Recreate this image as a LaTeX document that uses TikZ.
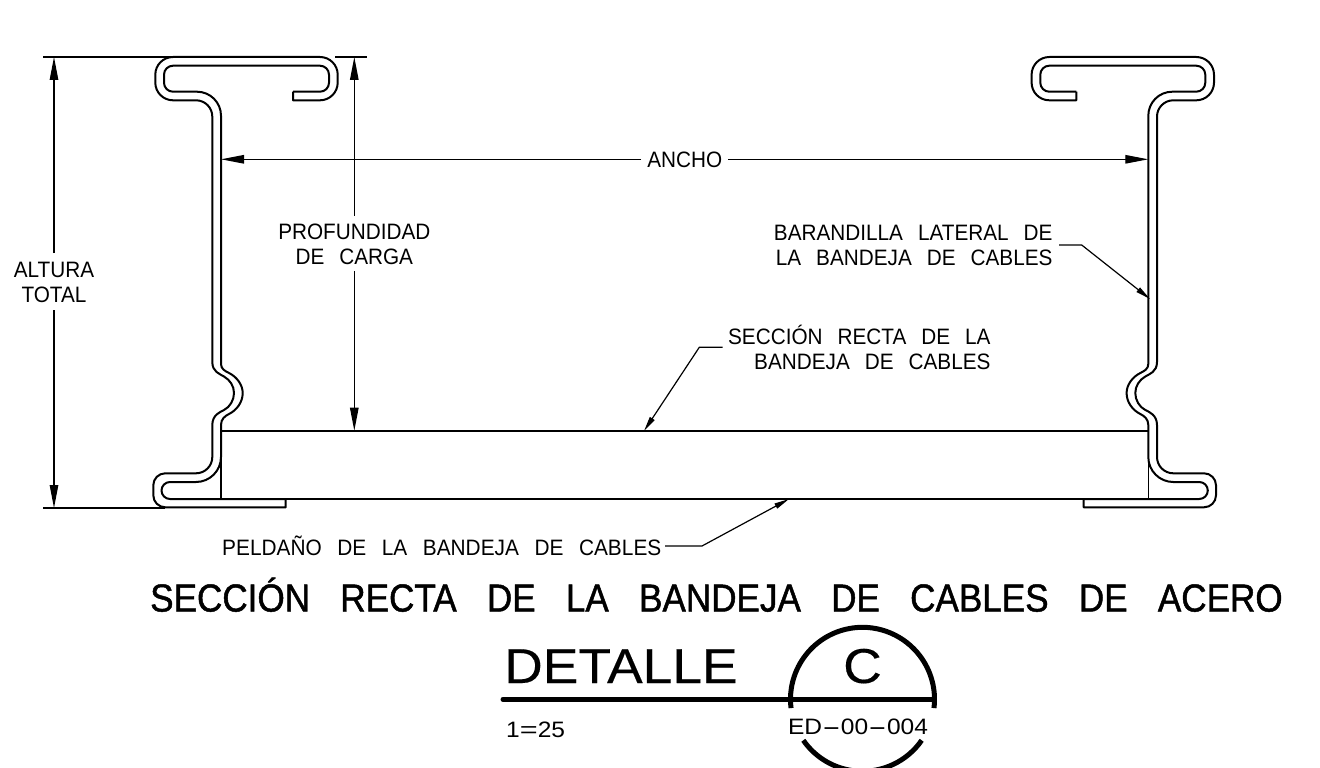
\documentclass[tikz,border=0pt]{standalone}
\usepackage{fontspec}
\usepackage{graphicx}
\usetikzlibrary{arrows.meta}
\newfontfamily\cadsmall[FakeStretch=0.93,WordSpace=2.6]{Liberation Sans}
\newfontfamily\cadlong[FakeStretch=0.935,WordSpace=2.68]{Liberation Sans}
\newfontfamily\cadwide[FakeStretch=1.1]{Liberation Sans}
\newfontfamily\cadtitle[FakeStretch=0.9,FakeBold=1.2,WordSpace=3.1]{Liberation Sans}
\newfontfamily\cadbig[FakeStretch=1.09,FakeBold=0.3]{Liberation Sans}
\tikzset{
  x=1pt,y=-1pt,
  railline/.style={line width=2pt,line join=round,black},
  thinline/.style={line width=1.6pt,black},
  dimline/.style={line width=1.2pt,black},
  dimhead/.style={-{Triangle[length=23pt,width=8.5pt]}},
  leadline/.style={line width=1.2pt,black,-{Triangle[length=15pt,width=5.5pt]}},
  smalltext/.style={inner sep=0pt,font=\cadsmall\fontsize{22.3}{25}\selectfont},
  longtext/.style={inner sep=0pt,font=\cadlong\fontsize{22.3}{25}\selectfont},
  widetext/.style={inner sep=0pt,font=\cadwide\fontsize{22.3}{25}\selectfont},
  bigtext/.style={inner sep=0pt,font=\cadbig\fontsize{49}{55}\selectfont},
  titletext/.style={inner sep=0pt,font=\cadtitle\fontsize{39}{44}\selectfont},
  heavyline/.style={line width=5pt,line cap=round,black},
}
\newcommand{\railshape}{%
  % outer skin
  \draw[railline] (293,91.7) -- (293,100.3) -- (320,100.3)
    arc[start angle=90,end angle=0,radius=17.7] -- (337.7,74.7)
    arc[start angle=0,end angle=-90,radius=17.7] -- (173,57)
    arc[start angle=-90,end angle=-180,radius=17.7] -- (155.3,82.6)
    arc[start angle=180,end angle=90,radius=17.7] -- (196,100.3)
    arc[start angle=-90,end angle=0,radius=16.3] -- (212.3,362)
    .. controls (212.3,372) and (220,374) .. (224,376.5)
    .. controls (230,380) and (234,386) .. (234,393)
    .. controls (234,400) and (230,407) .. (224,410)
    .. controls (220,412) and (212.3,415) .. (212.3,425)
    -- (212.3,457)
    arc[start angle=0,end angle=90,radius=16.3] -- (165.3,473.3)
    arc[start angle=-90,end angle=-180,radius=12] -- (153.3,495.3)
    arc[start angle=180,end angle=90,radius=12] -- (285.7,507.3) -- (285.7,499);
  % inner skin
  \draw[railline] (293,91.7) -- (320,91.7)
    arc[start angle=90,end angle=0,radius=9] -- (329,74.7)
    arc[start angle=0,end angle=-90,radius=9] -- (173,65.7)
    arc[start angle=-90,end angle=-180,radius=9] -- (164,82.7)
    arc[start angle=180,end angle=90,radius=9] -- (197,91.7)
    arc[start angle=-90,end angle=0,radius=24] -- (221,364)
    .. controls (221,369) and (225,371) .. (229,373)
    .. controls (237,377) and (242.7,385) .. (242.7,393)
    .. controls (242.7,402) and (237,410) .. (229,414)
    .. controls (225,416) and (221,419) .. (221,425)
    -- (221,457)
    arc[start angle=0,end angle=90,radius=25] -- (170,482)
    arc[start angle=-90,end angle=-270,radius=8.5] -- (285.7,499);
}
\begin{document}
\begin{tikzpicture}
\useasboundingbox (0,0) rectangle (1320,768);
\fill[white] (0,0) rectangle (1320,768);

\railshape
\begin{scope}[xshift=1369.3pt,xscale=-1]
\railshape
\end{scope}

% straight section
\draw[thinline] (221,499) -- (221,430.7) -- (1148.3,430.7) -- (1148.3,499);
\draw[thinline] (221,499) -- (1148.3,499);

% extension lines
\draw[dimline] (43,57) -- (173,57);
\draw[dimline] (43,508) -- (165,508);
\draw[dimline] (335,57) -- (366.7,57);

% labels
\node[smalltext,align=center,anchor=south] (altura) at (54,303) {ALTURA\\TOTAL};
\node[smalltext,align=center,anchor=south] (profundidad) at (354.3,264.8) {PROFUNDIDAD\\DE CARGA};
\node[smalltext,anchor=center] (ancho) at (684.7,159.5) {ANCHO};
\node[smalltext,align=right,anchor=south east] (barandilla) at (1052.7,266.3) {BARANDILLA LATERAL DE\\LA BANDEJA DE CABLES};
\node[smalltext,align=right,anchor=south east] (seccion) at (990.7,369.8) {SECCIÓN RECTA DE LA\\BANDEJA DE CABLES};
\node[longtext,anchor=base west] (peldano) at (222,555) {PELDAÑO DE LA BANDEJA DE CABLES};
\node[titletext,anchor=base west] (titulo) at (150,611.5) {SECCIÓN RECTA DE LA BANDEJA DE CABLES DE ACERO};
\node[bigtext,anchor=base west] (detalle) at (504,683) {DETALLE};
\node[bigtext,anchor=base] (letra) at (862.5,683) {C};
\node[widetext,anchor=base west] (escala) at (506,737) {1\scalebox{1.25}[1]{=}25};
\node[widetext,anchor=base] (plano) at (858,734) {ED\scalebox{2.3}[1]{-}00\scalebox{2.3}[1]{-}004};

% dimensions
\coordinate (altTop) at (54,57);
\coordinate (altBot) at (54,508);
\draw[dimline,dimhead,shorten <=9pt] (altura.north -| altTop) -- (altTop);
\draw[dimline,dimhead,shorten <=7pt] (altura.south -| altBot) -- (altBot);
\coordinate (profTop) at (354.3,57);
\coordinate (profBot) at (354.3,430.7);
\draw[dimline,dimhead,shorten <=8pt] (profundidad.north -| profTop) -- (profTop);
\draw[dimline,dimhead,shorten <=6pt] (profundidad.south -| profBot) -- (profBot);
\coordinate (anchoL) at (221,159.3);
\coordinate (anchoR) at (1148.3,159.3);
\draw[dimline,dimhead,shorten <=6pt] (ancho.west |- anchoL) -- (anchoL);
\draw[dimline,dimhead,shorten <=6pt] (ancho.east |- anchoR) -- (anchoR);

% leaders
\coordinate (barA) at (1059,245);
\coordinate (barB) at (1081.7,245);
\coordinate (barC) at (1150,299);
\draw[leadline] (barA) -- (barB) -- (barC);
\coordinate (secA) at (722.7,347.3);
\coordinate (secB) at (699.3,347.3);
\coordinate (secC) at (644,431);
\draw[leadline] (secA) -- (secB) -- (secC);
\coordinate (pelA) at (665,546);
\coordinate (pelB) at (702,546);
\coordinate (pelC) at (789,499);
\draw[leadline] (pelA) -- (pelB) -- (pelC);

% detail bubble
\coordinate (burb) at (862.5,699.3);
\draw[heavyline] (503,699.3) -- (932,699.3);
\draw[line width=5pt,black] (burb) ++(173:72) arc[start angle=173,end angle=367,radius=72];
\draw[line width=5pt,black] (burb) ++(34.7:72) arc[start angle=34.7,end angle=145.3,radius=72];
\end{tikzpicture}
\end{document}
